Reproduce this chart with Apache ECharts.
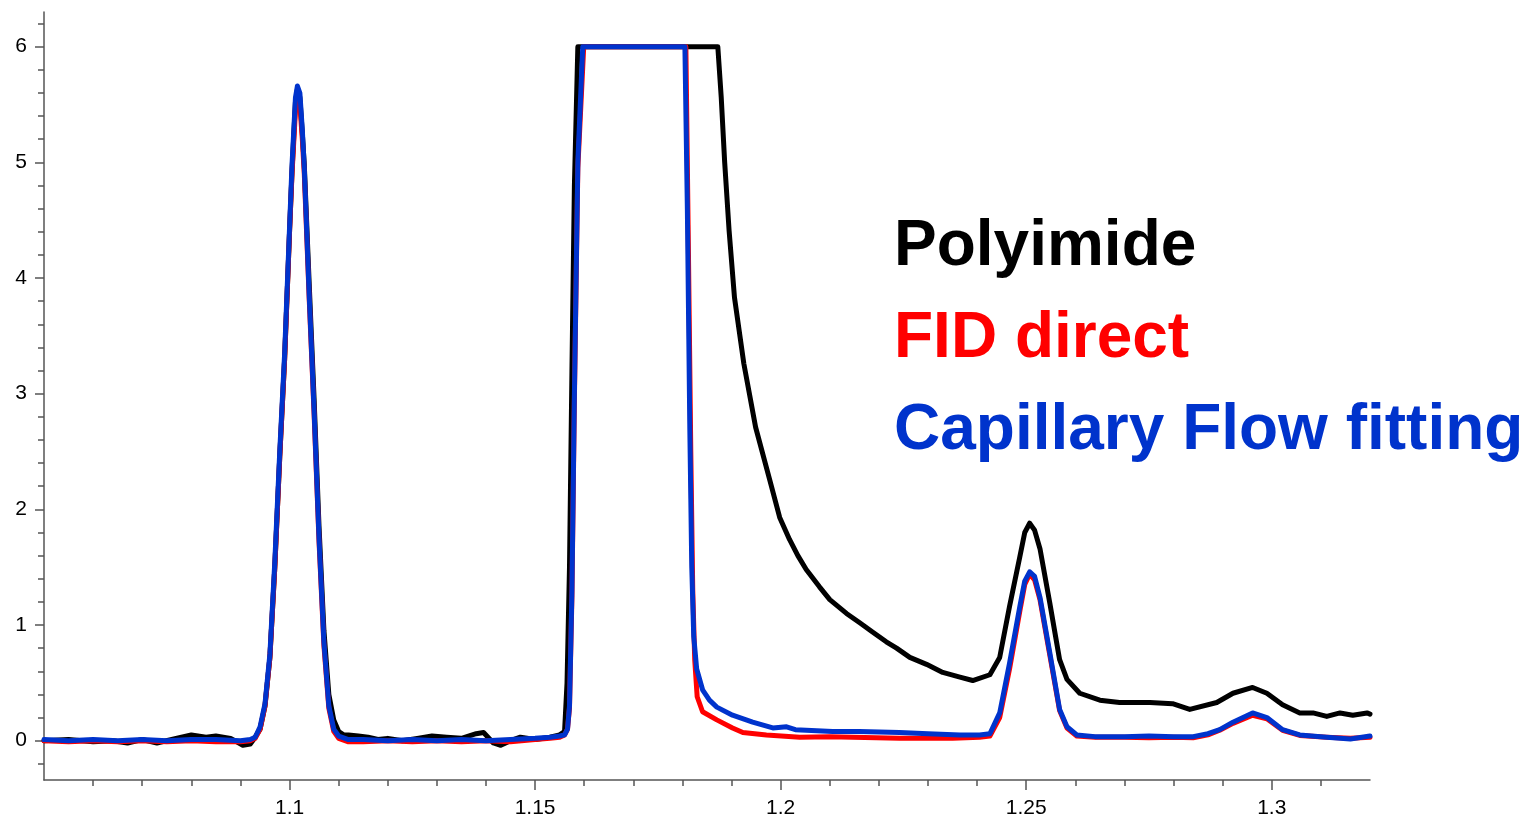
<!DOCTYPE html>
<html>
<head>
<meta charset="utf-8">
<script src="https://cdn.jsdelivr.net/npm/echarts@6/dist/echarts.min.js"></script>
<style>
  html, body { margin: 0; padding: 0; background: #fff; }
  #main { width: 1524px; height: 820px; }
</style>
</head>
<body>
<div id="main"></div>
<script>
// retention time (min) and detector signal
var polyX = [1.050, 1.055, 1.060, 1.064, 1.067, 1.070, 1.073, 1.076, 1.080, 1.083, 1.085, 1.088, 1.0905, 1.092, 1.093,
  1.094, 1.095, 1.096, 1.097, 1.098, 1.099, 1.100, 1.1005, 1.1012, 1.1016, 1.1021, 1.1026, 1.103, 1.104, 1.105, 1.106,
  1.107, 1.108, 1.109, 1.110, 1.111, 1.112, 1.114, 1.116, 1.118, 1.120, 1.123, 1.126, 1.129, 1.132, 1.135, 1.138,
  1.1395, 1.1415, 1.143, 1.145, 1.147, 1.150, 1.153, 1.155, 1.156, 1.1565, 1.157, 1.1575, 1.158, 1.1587, 1.1872,
  1.1879, 1.1886, 1.1895, 1.1906, 1.1925, 1.1949, 1.1978, 1.1998, 1.2018, 1.2035, 1.2052, 1.2079, 1.2100, 1.2134,
  1.2161, 1.2187, 1.2215, 1.2236, 1.2263, 1.2297, 1.2330, 1.2365, 1.2391, 1.2426, 1.2446, 1.2466, 1.2487, 1.2497,
  1.2507, 1.2517, 1.2528, 1.2548, 1.2568, 1.2583, 1.2609, 1.2650, 1.2690, 1.2752, 1.2798, 1.2833, 1.2888, 1.2921,
  1.2961, 1.2990, 1.3022, 1.3057, 1.3084, 1.3112, 1.3139, 1.3165, 1.3194, 1.3200];
var polyY = [0.00, 0.01, -0.01, 0.00, -0.02, 0.01, -0.02, 0.01, 0.05, 0.03, 0.04, 0.02, -0.04, -0.03, 0.03,
  0.10, 0.30, 0.72, 1.50, 2.45, 3.30, 4.40, 4.92, 5.52, 5.63, 5.56, 5.25, 4.98, 3.95, 2.95, 1.85,
  0.95, 0.40, 0.18, 0.08, 0.05, 0.05, 0.04, 0.03, 0.01, 0.02, 0.00, 0.02, 0.04, 0.03, 0.02, 0.06,
  0.07, -0.02, -0.04, 0.00, 0.03, 0.01, 0.03, 0.05, 0.08, 0.50, 1.50, 3.20, 4.80, 6.00, 6.00,
  5.56, 5.00, 4.41, 3.83, 3.26, 2.71, 2.25, 1.93, 1.74, 1.60, 1.48, 1.33, 1.22, 1.10,
  1.02, 0.94, 0.855, 0.80, 0.72, 0.66, 0.59, 0.55, 0.52, 0.57, 0.72, 1.16, 1.59, 1.80,
  1.88, 1.82, 1.66, 1.19, 0.70, 0.53, 0.41, 0.35, 0.33, 0.33, 0.32, 0.27, 0.33, 0.41,
  0.46, 0.41, 0.31, 0.24, 0.24, 0.21, 0.24, 0.22, 0.24, 0.23];

var fidX = [1.050, 1.055, 1.060, 1.065, 1.070, 1.075, 1.080, 1.085, 1.090, 1.092, 1.093, 1.094, 1.095, 1.096, 1.097,
  1.098, 1.099, 1.100, 1.1005, 1.1012, 1.1016, 1.1021, 1.1026, 1.103, 1.104, 1.105, 1.106, 1.107, 1.108, 1.109, 1.110,
  1.112, 1.115, 1.120, 1.125, 1.130, 1.135, 1.140, 1.145, 1.150, 1.153, 1.155, 1.156, 1.1566, 1.157, 1.1575, 1.158,
  1.1587, 1.1599, 1.1807, 1.1812, 1.1817, 1.1821, 1.1825, 1.1830, 1.1841, 1.1870, 1.1902, 1.1923, 1.1971, 1.2039,
  1.2100, 1.2242, 1.2350, 1.2405, 1.2426, 1.2446, 1.2466, 1.2487, 1.2497, 1.2507, 1.2517, 1.2528, 1.2548, 1.2568,
  1.2583, 1.2603, 1.2640, 1.2700, 1.2750, 1.2800, 1.2840, 1.2870, 1.2894, 1.2921, 1.2961, 1.2990, 1.3022, 1.3057,
  1.3112, 1.3160, 1.3200];
var fidY = [0.00, -0.01, 0.00, -0.01, 0.00, -0.01, 0.00, -0.01, -0.01, 0.00, 0.02, 0.10, 0.30, 0.72, 1.50,
  2.45, 3.30, 4.40, 4.90, 5.45, 5.55, 5.50, 5.20, 4.90, 3.82, 2.82, 1.72, 0.82, 0.28, 0.08, 0.02,
  -0.01, -0.01, 0.00, -0.01, 0.00, -0.01, 0.00, -0.01, 0.01, 0.02, 0.03, 0.05, 0.10, 0.28, 1.25, 2.95,
  4.95, 6.00, 6.00, 4.30, 2.50, 1.30, 0.70, 0.38, 0.25, 0.18, 0.11, 0.07, 0.05, 0.03,
  0.035, 0.02, 0.02, 0.03, 0.04, 0.20, 0.62, 1.12, 1.35, 1.44, 1.39, 1.22, 0.74, 0.26,
  0.11, 0.04, 0.03, 0.03, 0.025, 0.03, 0.025, 0.05, 0.09, 0.15, 0.22, 0.19, 0.09, 0.045,
  0.03, 0.02, 0.03];

var capX = [1.050, 1.055, 1.060, 1.065, 1.070, 1.075, 1.080, 1.085, 1.090, 1.092, 1.093, 1.094, 1.095, 1.096, 1.097,
  1.098, 1.099, 1.100, 1.1005, 1.1012, 1.1016, 1.1021, 1.1026, 1.103, 1.104, 1.105, 1.106, 1.107, 1.108, 1.109, 1.110,
  1.112, 1.115, 1.120, 1.125, 1.130, 1.135, 1.140, 1.145, 1.150, 1.153, 1.155, 1.156, 1.1566, 1.157, 1.1575, 1.158,
  1.1587, 1.1597, 1.1805, 1.1810, 1.1815, 1.1819, 1.1823, 1.1829, 1.1841, 1.1855, 1.1870, 1.1902, 1.1943, 1.1984,
  1.2012, 1.2030, 1.2106, 1.2160, 1.2242, 1.2300, 1.2365, 1.2405, 1.2426, 1.2446, 1.2466, 1.2487, 1.2497, 1.2507,
  1.2517, 1.2528, 1.2548, 1.2568, 1.2583, 1.2603, 1.2640, 1.2700, 1.2750, 1.2800, 1.2840, 1.2870, 1.2894, 1.2921,
  1.2961, 1.2990, 1.3022, 1.3057, 1.3112, 1.3160, 1.3200];
var capY = [0.01, 0.00, 0.01, 0.00, 0.01, 0.00, 0.01, 0.01, 0.00, 0.01, 0.03, 0.12, 0.32, 0.75, 1.55,
  2.50, 3.35, 4.44, 4.98, 5.56, 5.66, 5.60, 5.28, 4.95, 3.85, 2.85, 1.75, 0.85, 0.30, 0.10, 0.04,
  0.01, 0.01, 0.00, 0.01, 0.00, 0.01, 0.00, 0.01, 0.02, 0.03, 0.04, 0.05, 0.10, 0.30, 1.30, 3.00,
  5.00, 6.00, 6.00, 4.60, 2.70, 1.50, 0.90, 0.62, 0.44, 0.35, 0.29, 0.22, 0.16, 0.11,
  0.12, 0.095, 0.08, 0.08, 0.07, 0.06, 0.05, 0.05, 0.06, 0.24, 0.67, 1.16, 1.38, 1.46,
  1.42, 1.24, 0.76, 0.27, 0.12, 0.05, 0.035, 0.035, 0.04, 0.035, 0.035, 0.06, 0.095, 0.16,
  0.24, 0.20, 0.095, 0.05, 0.03, 0.015, 0.04];

var seriesNames = ['Polyimide', 'FID direct', 'Capillary Flow fitting'];
var seriesColors = ['#000000', '#ff0000', '#0033cc'];
var xTicks = [1.1, 1.15, 1.2, 1.25, 1.3];
var yTicks = [0, 1, 2, 3, 4, 5, 6];

function pairs(xs, ys) {
  return xs.map(function (x, i) { return [x, ys[i]]; });
}

var chart = echarts.init(document.getElementById('main'));

var axisColor = '#555';
var labelFont = { color: '#000', fontSize: 21, fontFamily: 'Liberation Sans, Arial, sans-serif' };

var option = {
  animation: false,
  backgroundColor: '#fff',
  grid: { left: 44, right: 154, top: 12, bottom: 40, containLabel: false },
  legend: {
    orient: 'vertical',
    left: 884,
    top: 196,
    icon: 'none',
    itemWidth: 0,
    itemHeight: 0,
    itemGap: 0,
    selectedMode: false,
    textStyle: { fontSize: 64, fontWeight: 'bold', fontFamily: 'Liberation Sans, Arial, sans-serif', lineHeight: 92 },
    data: seriesNames.map(function (n, i) {
      return { name: n, textStyle: { color: seriesColors[i] } };
    })
  },
  xAxis: {
    type: 'value',
    min: 1.05,
    max: 1.32,
    interval: 0.05,
    axisLine: { show: true, onZero: false, lineStyle: { color: axisColor, width: 1.5 } },
    axisTick: { show: true, length: 10, customValues: xTicks, lineStyle: { color: axisColor, width: 1.5 } },
    minorTick: { show: true, splitNumber: 5, length: 6, lineStyle: { color: axisColor, width: 1.5 } },
    axisLabel: Object.assign({ margin: 18, customValues: xTicks }, labelFont),
    splitLine: { show: false }
  },
  yAxis: {
    type: 'value',
    min: -0.34,
    max: 6.3,
    axisLine: { show: true, onZero: false, lineStyle: { color: axisColor, width: 1.5 } },
    axisTick: { show: true, length: 9, customValues: yTicks, lineStyle: { color: axisColor, width: 1.5 } },
    minorTick: { show: true, splitNumber: 5, length: 6, lineStyle: { color: axisColor, width: 1.5 } },
    axisLabel: Object.assign({ margin: 17, customValues: yTicks }, labelFont),
    splitLine: { show: false }
  },
  series: [
    { name: seriesNames[0], data: pairs(polyX, polyY) },
    { name: seriesNames[1], data: pairs(fidX, fidY) },
    { name: seriesNames[2], data: pairs(capX, capY) }
  ].map(function (s, i) {
    return {
      name: s.name,
      type: 'line',
      data: s.data,
      showSymbol: false,
      symbol: 'none',
      color: seriesColors[i],
      lineStyle: { color: seriesColors[i], width: 5, cap: 'round', join: 'round' },
      emphasis: { disabled: true }
    };
  })
};

chart.setOption(option);
</script>
</body>
</html>
